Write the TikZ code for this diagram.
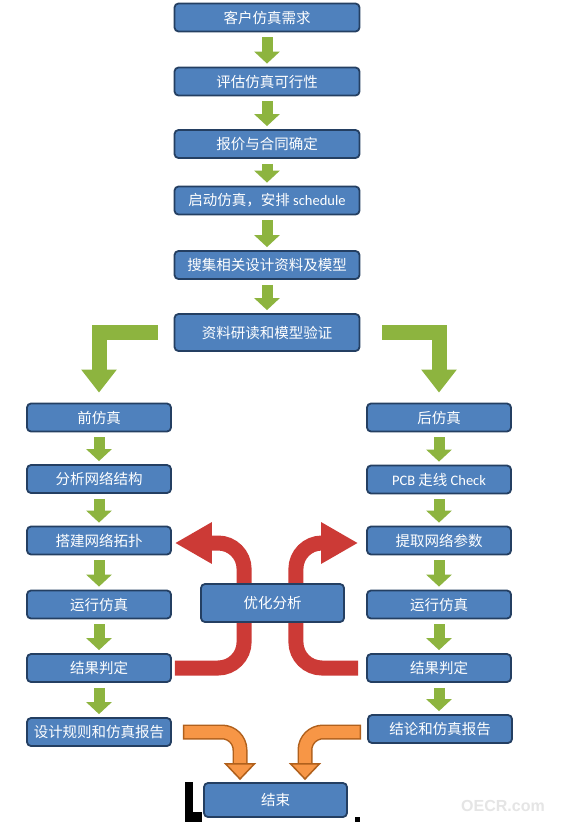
\documentclass[tikz,border=0pt]{standalone}
\usepackage{fontspec}
\newfontfamily\cjkfont{Noto Sans CJK SC}
\newfontfamily\latfont{Carlito}
\newfontfamily\wzfont{Liberation Sans}
\usetikzlibrary{arrows.meta,backgrounds}
\definecolor{boxblau}{HTML}{4F81BD}
\definecolor{boxrand}{HTML}{243F62}
\definecolor{gruen}{HTML}{8DB43F}
\definecolor{rotfarbe}{HTML}{CC3A36}
\definecolor{orfill}{HTML}{F79646}
\definecolor{orrand}{HTML}{B0601C}

\begin{document}
\begin{tikzpicture}[x=1pt, y=-1pt,
      font=\cjkfont\fontsize{14.5}{17}\selectfont,
      box/.style={draw=boxrand, fill=boxblau, line width=1.8pt, rounded corners=4pt, text=white, inner sep=0pt, minimum height=28pt, align=center},
      pfeil/.style={gruen, line width=11pt, shorten <=5pt, shorten >=3pt, -{Triangle[width=25pt,length=12pt]}},
      knick/.style={gruen, line width=15pt, -{Triangle[width=34pt,length=23pt]}},
      rotpfeil/.style={rotfarbe, line width=15pt, rounded corners=26pt, -{Triangle[width=39pt,length=37pt]}},
      orlinie/.style={orrand, line width=15pt, rounded corners=18pt, shorten >=14pt},
      orpfeil/.style={orfill, line width=12pt, rounded corners=18pt, shorten <=1.5pt, -{Triangle[width=32pt,length=17pt,fill=orfill,color=orrand,line width=1.5pt]}}
    ]
      \useasboundingbox (0,0) rectangle (560,822);

      \node[box, minimum width=185pt] (bedarf) at (267,17.5) {客户仿真需求};
      \node[box, minimum width=185pt] (pruef) at (267,81.5) {评估仿真可行性};
      \node[box, minimum width=185pt] (angebot) at (267,144) {报价与合同确定};
      \node[box, minimum width=185pt] (start) at (267,200.5) {启动仿真，安排 {\latfont schedule}};
      \node[box, minimum width=185pt] (sammeln) at (267,265) {搜集相关设计资料及模型};
      \node[box, minimum width=185pt, minimum height=37pt] (verif) at (267,332.5) {资料研读和模型验证};

      \node[box, minimum width=144pt] (vor) at (99,417.5) {前仿真};
      \node[box, minimum width=144pt] (netz) at (99,479) {分析网络结构};
      \node[box, minimum width=144pt] (topo) at (99,540.5) {搭建网络拓扑};
      \node[box, minimum width=144pt] (laufl) at (99,604.5) {运行仿真};
      \node[box, minimum width=144pt] (urteill) at (99,668) {结果判定};
      \node[box, minimum width=144pt] (regeln) at (99,732) {设计规则和仿真报告};

      \node[box, minimum width=144pt] (nach) at (439,417.5) {后仿真};
      \node[box, minimum width=144pt] (pcb) at (439,479.5) {{\latfont PCB} 走线 {\latfont Check}};
      \node[box, minimum width=144pt] (param) at (439,540.5) {提取网络参数};
      \node[box, minimum width=144pt] (laufr) at (439,604.5) {运行仿真};
      \node[box, minimum width=144pt] (urteilr) at (439,668) {结果判定};
      \node[box, minimum width=144pt] (fazit) at (440,729) {结论和仿真报告};

      \node[box, minimum width=143pt, minimum height=38pt] (opt) at (272.5,603) {优化分析};
      \node[box, minimum width=143pt, minimum height=34pt] (ende) at (275.5,800) {结束};
      \node[font=\wzfont\bfseries\fontsize{16}{18}\selectfont, text=black!10] (wz) at (503,806) {OECR.com};

      \draw[pfeil] (bedarf) -- (pruef);
      \draw[pfeil] (pruef) -- (angebot);
      \draw[pfeil] (angebot) -- (start);
      \draw[pfeil] (start) -- (sammeln);
      \draw[pfeil] (sammeln) -- (verif);
      \draw[pfeil] (vor) -- (netz);
      \draw[pfeil] (netz) -- (topo);
      \draw[pfeil] (topo) -- (laufl);
      \draw[pfeil] (laufl) -- (urteill);
      \draw[pfeil] (urteill) -- (regeln);
      \draw[pfeil] (nach) -- (pcb);
      \draw[pfeil] (pcb) -- (param);
      \draw[pfeil] (param) -- (laufr);
      \draw[pfeil] (laufr) -- (urteilr);
      \draw[pfeil] (urteilr.south) -- (urteilr.south |- fazit.north);

      \draw[knick] ([xshift=-16pt]verif.west) -| ([yshift=10pt]vor.north);
      \draw[knick] ([xshift=22pt]verif.east) -| ([yshift=10pt]nach.north);

      \begin{scope}[on background layer]
        \fill[white] (0,0) rectangle (560,822);
        \draw[rotpfeil] ([xshift=3pt]urteill.east) -| ([xshift=44pt]opt.west) |- ([xshift=3pt,yshift=-2.5pt]topo.east);
        \draw[rotpfeil] ([xshift=-8pt]urteilr.west) -| ([xshift=-49pt]opt.east) |- ([xshift=-8pt,yshift=-2.5pt]param.west);
      \end{scope}

      \draw[orlinie] ([xshift=11pt]regeln.east) -| ([xshift=-35.5pt,yshift=2pt]ende.north);
      \draw[orpfeil] ([xshift=11pt]regeln.east) -| ([xshift=-35.5pt,yshift=2pt]ende.north);
      \draw[orlinie] ([xshift=-6pt,yshift=-3pt]fazit.west) -| ([xshift=29.5pt,yshift=2pt]ende.north);
      \draw[orpfeil] ([xshift=-6pt,yshift=-3pt]fazit.west) -| ([xshift=29.5pt,yshift=2pt]ende.north);

      \fill (185,782) rectangle (193,822);
      \fill (185,812) rectangle (202,822);
      \fill (355,817) rectangle (360,822);
    \end{tikzpicture}
\end{document}
